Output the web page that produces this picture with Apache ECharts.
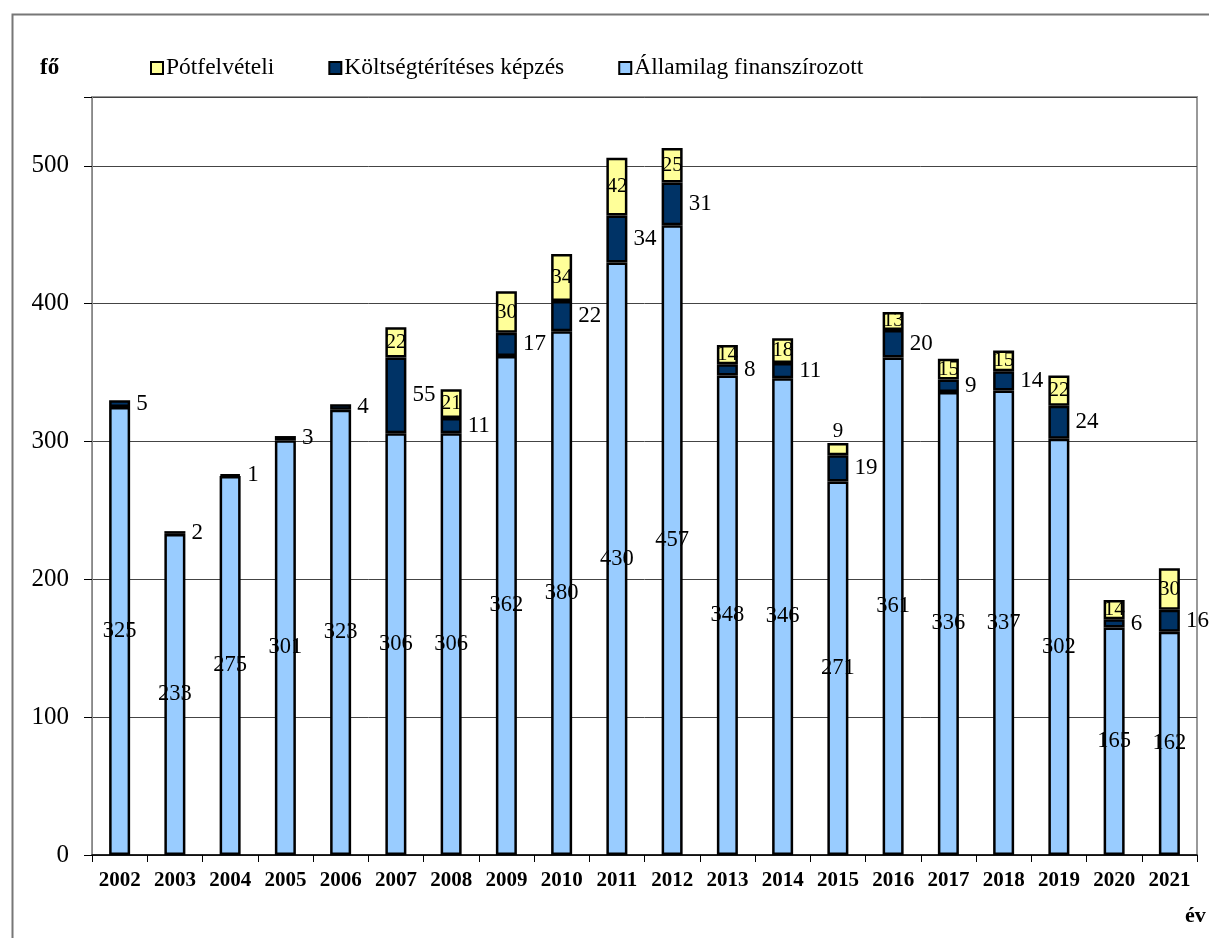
<!DOCTYPE html>
<html><head><meta charset="utf-8">
<script src="https://cdn.jsdelivr.net/npm/echarts@6/dist/echarts.min.js"></script>
<style>html,body{margin:0;padding:0;background:#fff}#c{width:1209px;height:938px}</style>
</head><body><div id="c"></div>
<script>
const years = ['2002','2003','2004','2005','2006','2007','2008','2009','2010','2011','2012','2013','2014','2015','2016','2017','2018','2019','2020','2021'];
const allami = [325,233,275,301,323,306,306,362,380,430,457,348,346,271,361,336,337,302,165,162];
const koltseg = [5,2,1,3,4,55,11,17,22,34,31,8,11,19,20,9,14,24,6,16];
const potfelv = [null,null,null,null,null,22,21,30,34,42,25,14,18,9,13,15,15,22,14,30];
const yTicks = [0,100,200,300,400,500];

const FONT = '"Liberation Serif", "Times New Roman", serif';
const chart = echarts.init(document.getElementById('c'));
const border = {borderColor:'#000', borderWidth:2.5};
chart.setOption({
  animation:false,
  textStyle:{fontFamily:FONT},
  grid:{left:92,right:12,top:97,bottom:83,show:true,borderColor:'#999',borderWidth:2},
  legend:{
    left:145, top:51, itemWidth:12, itemHeight:12, itemGap:54,
    data:['Pótfelvételi','Költségtérítéses képzés','Államilag finanszírozott'],
    textStyle:{fontFamily:FONT,fontSize:23.5,color:'#000',padding:[0,0,0,-2]},
    icon:'rect'
  },
  xAxis:{
    type:'category', data:years,
    axisLine:{lineStyle:{color:'#000',width:1.5}},
    axisTick:{show:true,length:7,lineStyle:{color:'#000'}},
    axisLabel:{fontFamily:FONT,fontSize:21,fontWeight:'bold',color:'#000',margin:15}
  },
  yAxis:{
    type:'value', min:0, max:550, interval:100,
    axisLine:{show:true,lineStyle:{color:'#888',width:1}},
    axisTick:{show:true,length:8,lineStyle:{color:'#000'}},
    axisLabel:{fontFamily:FONT,fontSize:25,color:'#000',margin:23,
      formatter:v=>yTicks.includes(v)?String(v):''},
    splitLine:{lineStyle:{color:'#444',width:1}}
  },
  series:[
    {name:'Államilag finanszírozott',type:'bar',stack:'a',barWidth:21,data:allami,
     itemStyle:Object.assign({color:'#99CCFF'},border),
     label:{show:true,position:'inside',fontFamily:FONT,fontSize:22.5,color:'#000'}},
    {name:'Költségtérítéses képzés',type:'bar',stack:'a',barWidth:21,data:koltseg,
     itemStyle:Object.assign({color:'#003366'},border),
     label:{show:true,position:'right',distance:6,fontFamily:FONT,fontSize:23,color:'#000'}},
    {name:'Pótfelvételi',type:'bar',stack:'a',barWidth:21,
     data:potfelv.map((v,i)=> years[i]==='2015' ? {value:v,label:{position:'top',distance:1}} : v),
     itemStyle:Object.assign({color:'#FFFF99'},border),
     label:{show:true,position:'inside',fontFamily:FONT,fontSize:21,color:'#000',
       formatter:p=>p.value==null?'':String(p.value)}}
  ],
  graphic:[
    {type:'rect',left:10,top:12,shape:{width:1250,height:960},silent:true,
     style:{fill:'none',stroke:'#777',lineWidth:2},z:-1},
    {type:'text',left:40,top:57,style:{text:'fő',font:'bold 23px '+FONT,fill:'#000'}},
    {type:'text',left:1185,top:905,style:{text:'év',font:'bold 22px '+FONT,fill:'#000'}}
  ]
});
</script></body></html>
